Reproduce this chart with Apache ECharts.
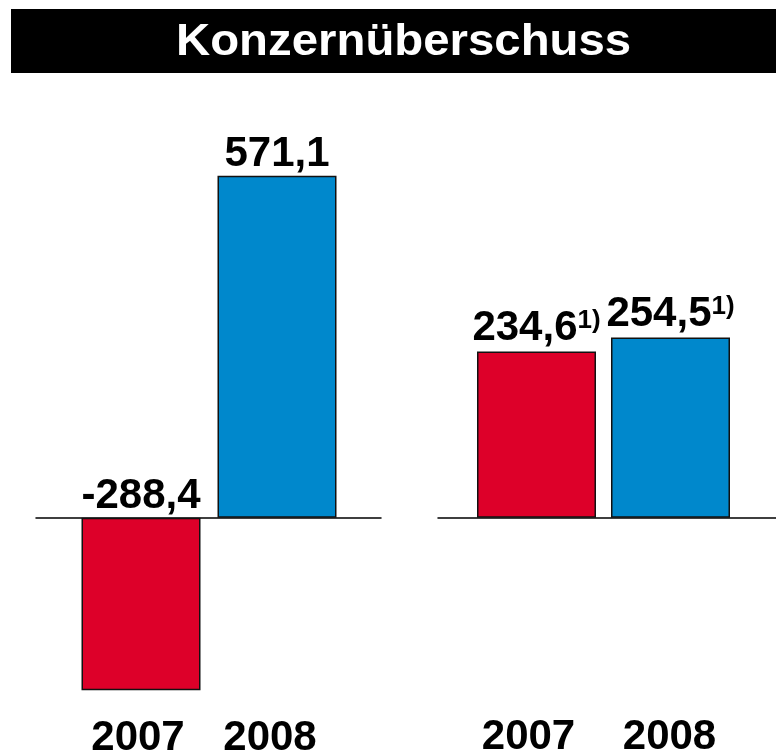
<!DOCTYPE html>
<html>
<head>
<meta charset="utf-8">
<script src="https://cdn.jsdelivr.net/npm/echarts@6/dist/echarts.min.js"></script>
<style>
html,body{margin:0;padding:0;background:#fff;}
#chart{width:776px;height:752px;}
</style>
</head>
<body>
<div id="chart"></div>
<script>
// ---- data ----
const titleText = 'Konzernüberschuss';
const categories = ['2007', '2008'];
const leftValues = [-288.4, 571.1];
const rightValues = [234.6, 254.5];
const rightFootnotes = ['1)', '1)'];
const barColors = ['#DD0029', '#0088CC'];

const FONT = "'Liberation Sans', Arial, sans-serif";
const fmt = v => v.toFixed(1).replace('.', ',');

const chart = echarts.init(document.getElementById('chart'));

function lineXAxis(gridIndex) {
  return {
    gridIndex: gridIndex, type: 'value', min: 0, max: 1,
    axisLine: { show: true, onZero: true, lineStyle: { color: '#000', width: 1.5 } },
    axisTick: { show: false }, axisLabel: { show: false }, splitLine: { show: false }
  };
}
function hiddenYAxis(gridIndex, min, max) {
  return {
    gridIndex: gridIndex, type: 'value', min: min, max: max,
    axisLine: { show: false }, axisTick: { show: false },
    axisLabel: { show: false }, splitLine: { show: false }
  };
}
// shifts: horizontal nudge (px, negative = left) for each category label
function barXAxis(gridIndex, margin, shifts) {
  const yearStyle = { color: '#000', fontSize: 42, fontWeight: 'bold', fontFamily: FONT };
  const rich = {};
  shifts.forEach((d, i) => {
    rich['y' + i] = Object.assign({}, yearStyle,
      { padding: d < 0 ? [0, -2 * d, 0, 0] : [0, 0, 0, 2 * d] });
  });
  return {
    gridIndex: gridIndex, type: 'category', data: categories,
    axisLine: { show: false, onZero: false }, axisTick: { show: false },
    axisLabel: {
      margin: margin,
      formatter: (v, i) => '{y' + i + '|' + v + '}',
      rich: rich
    },
    splitLine: { show: false }
  };
}

const gridBase = { outerBoundsMode: 'none', containLabel: false };

const option = {
  animation: false,
  backgroundColor: '#fff',
  graphic: [
    { type: 'rect', left: 11, top: 9, shape: { width: 765, height: 64 }, style: { fill: '#000' } },
    { type: 'text', x: 176, y: 21, scaleX: 1.076,
      style: { text: titleText, fill: '#fff', font: "bold 44px " + FONT, textVerticalAlign: 'top' } }
  ],
  grid: [
    Object.assign({ left: 73, right: 431, top: 158.5, bottom: 54.8 }, gridBase),
    Object.assign({ left: 36, right: 395, top: 158.5, bottom: 54.8 }, gridBase),
    Object.assign({ left: 469.5, right: 38.5, top: 305.2, bottom: 57.2 }, gridBase),
    Object.assign({ left: 438, right: 0, top: 305.2, bottom: 57.2 }, gridBase)
  ],
  xAxis: [
    barXAxis(0, 20, [-3, -7]),
    lineXAxis(1),
    barXAxis(2, 22, [-8, -1]),
    lineXAxis(3)
  ],
  yAxis: [
    hiddenYAxis(0, -300, 600),
    hiddenYAxis(1, -300, 600),
    hiddenYAxis(2, -250, 300),
    hiddenYAxis(3, -250, 300)
  ],
  series: [
    {
      type: 'bar', xAxisIndex: 0, yAxisIndex: 0, barWidth: 119,
      data: leftValues.map((v, i) => ({ value: v, itemStyle: { color: barColors[i] } })),
      itemStyle: { borderColor: '#111', borderWidth: 1.5 },
      label: {
        show: true, position: 'top', distance: 0,
        formatter: p => fmt(p.value),
        color: '#000', fontSize: 42, fontWeight: 'bold', fontFamily: FONT
      }
    },
    {
      type: 'bar', xAxisIndex: 2, yAxisIndex: 2, barWidth: 119,
      data: rightValues.map((v, i) => ({ value: v, itemStyle: { color: barColors[i] } })),
      itemStyle: { borderColor: '#111', borderWidth: 1.5 },
      label: {
        show: true, position: 'top', distance: 2,
        formatter: p => '{v|' + fmt(p.value) + '}{s|' + rightFootnotes[p.dataIndex] + '}',
        rich: {
          v: { color: '#000', fontSize: 42, fontWeight: 'bold', fontFamily: FONT },
          s: { color: '#000', fontSize: 26, fontWeight: 'bold', fontFamily: FONT, verticalAlign: 'top' }
        }
      }
    }
  ]
};
chart.setOption(option);
</script>
</body>
</html>
